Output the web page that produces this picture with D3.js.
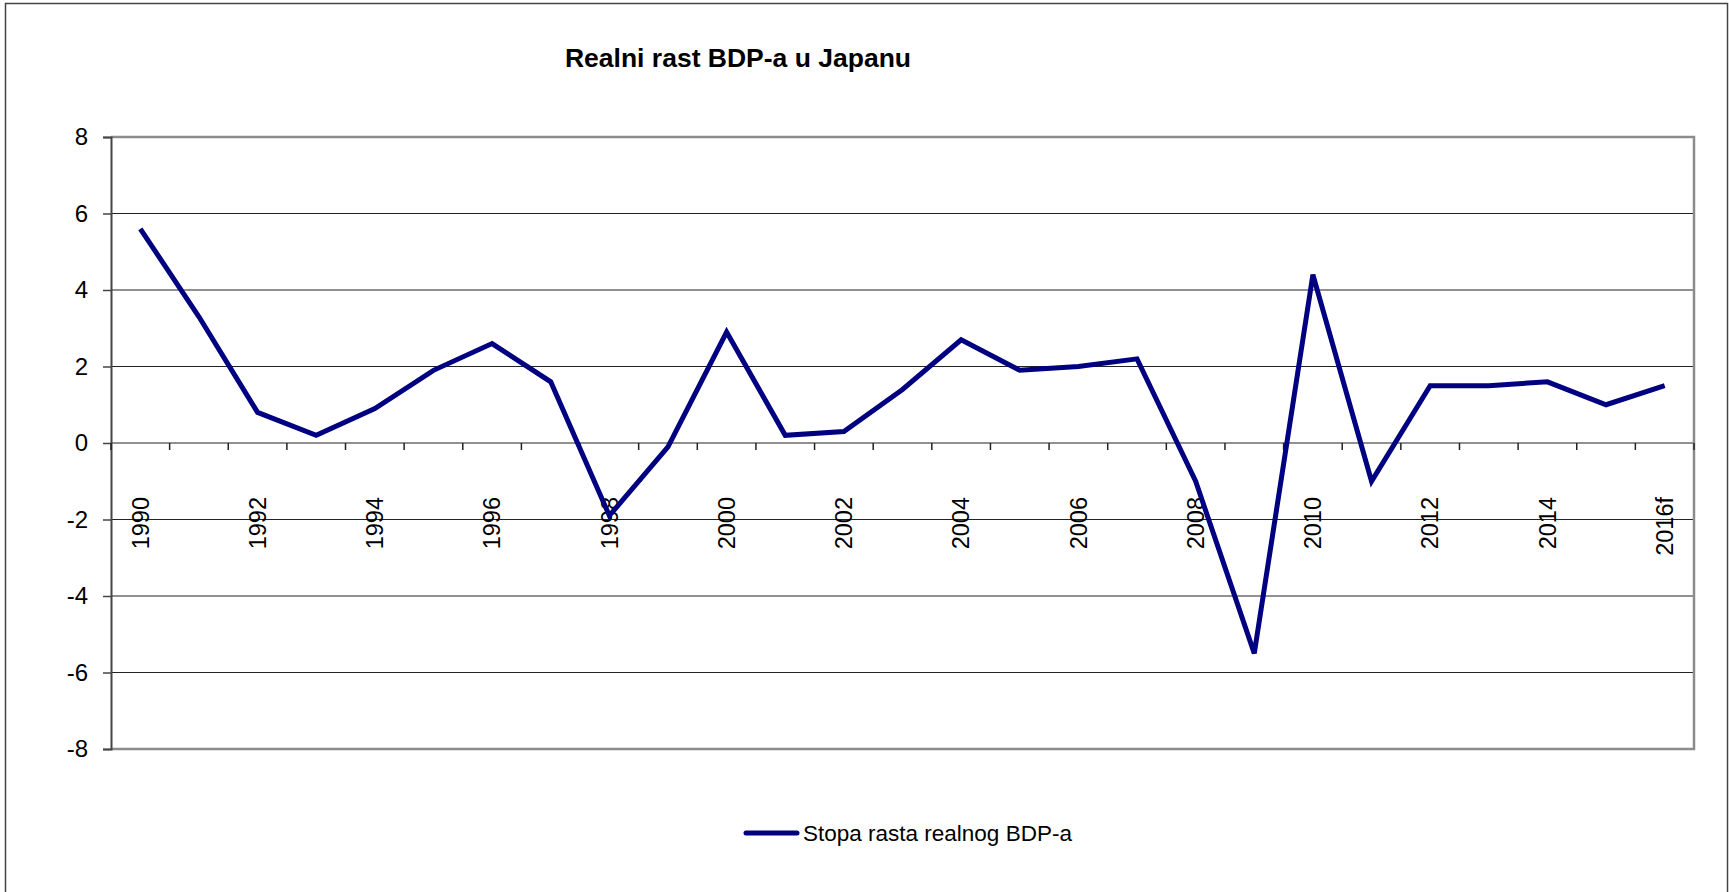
<!DOCTYPE html>
<html>
<head>
<meta charset="utf-8">
<script src="https://cdn.jsdelivr.net/npm/d3@7"></script>
<style>
body { margin: 0; background: #fff; }
svg { display: block; font-family: "Liberation Sans", Arial, sans-serif; }
</style>
</head>
<body>
<svg width="1729" height="892"></svg>
<script>
var years = ["1990","1991","1992","1993","1994","1995","1996","1997","1998","1999",
  "2000","2001","2002","2003","2004","2005","2006","2007","2008","2009",
  "2010","2011","2012","2013","2014","2015","2016f"];
var growth = [5.6, 3.3, 0.8, 0.2, 0.9, 1.9, 2.6, 1.6, -1.9, -0.1,
  2.9, 0.2, 0.3, 1.4, 2.7, 1.9, 2.0, 2.2, -1.0, -5.5,
  4.4, -1.0, 1.5, 1.5, 1.6, 1.0, 1.5];
var yTicks = [-8, -6, -4, -2, 0, 2, 4, 6, 8];
var seriesName = "Stopa rasta realnog BDP-a";
var title = "Realni rast BDP-a u Japanu";

var svg = d3.select("svg");

// chart border
svg.append("rect")
.attr("x", 5.5)
.attr("y", 3.5)
.attr("width", 1722)
.attr("height", 900)
.attr("fill", "none")
.attr("stroke", "#444")
.attr("stroke-width", 1.5);

// plot area edges
var plotLeft = 111, plotRight = 1694, plotTop = 137, plotBottom = 749;

var x = d3.scaleBand().domain(years).range([plotLeft, plotRight]).padding(0);
var y = d3.scaleLinear().domain([-8, 8]).range([plotBottom, plotTop]);

// grid lines
svg.append("g")
.selectAll("line")
.data(yTicks.filter(function(d) { return d > -8 && d < 8; }))
.enter().append("line")
.attr("x1", plotLeft)
.attr("x2", plotRight)
.attr("y1", function(d) { return y(d); })
.attr("y2", function(d) { return y(d); })
.attr("stroke", "#222")
.attr("stroke-width", 1);

// plot border (top, right, bottom)
svg.append("polyline")
.attr("points", [plotLeft, plotTop, plotRight, plotTop, plotRight, plotBottom, plotLeft, plotBottom].join(","))
.attr("fill", "none")
.attr("stroke", "#8c8c8c")
.attr("stroke-width", 2.5);

// y axis (plain hyphen for negatives, like the original)
var yAxis = svg.append("g")
.attr("transform", "translate(" + plotLeft + ",0)")
.call(d3.axisLeft(y).tickValues(yTicks).tickSize(8).tickPadding(15)
  .tickFormat(function(d) { return String(d); }));
yAxis.select(".domain").attr("stroke", "#444").attr("stroke-width", 2);
yAxis.selectAll(".tick line").attr("stroke", "#444").attr("stroke-width", 1.5);
yAxis.selectAll("text")
.attr("font-size", 24)
.attr("fill", "#000")
.attr("font-family", "Liberation Sans, Arial, sans-serif");

// x axis at zero with tick marks on category boundaries
var xAxis = svg.append("g");
var bounds = years.map(function(d) { return x(d); }).concat([plotRight]);
xAxis.selectAll("line.tick")
.data(bounds)
.enter().append("line")
.attr("class", "tick")
.attr("x1", function(d) { return d; })
.attr("x2", function(d) { return d; })
.attr("y1", y(0))
.attr("y2", y(0) + 7)
.attr("stroke", "#222")
.attr("stroke-width", 1.5);

xAxis.selectAll("text")
.data(years.filter(function(d, i) { return i % 2 === 0; }))
.enter().append("text")
.attr("transform", function(d) {
  return "translate(" + (x(d) + x.bandwidth() / 2) + ",497) rotate(-90)";
})
.attr("text-anchor", "end")
.attr("dy", "0.35em")
.attr("font-size", 23.5)
.attr("fill", "#000")
.text(function(d) { return d; });

// series line
var line = d3.line()
.x(function(d, i) { return x(years[i]) + x.bandwidth() / 2; })
.y(function(d) { return y(d); });

svg.append("path")
.datum(growth)
.attr("d", line)
.attr("fill", "none")
.attr("stroke", "#000080")
.attr("stroke-width", 5);

// title
svg.append("text")
.attr("x", 738)
.attr("y", 67)
.attr("text-anchor", "middle")
.attr("font-size", 26.5)
.attr("font-weight", "bold")
.attr("fill", "#000")
.text(title);

// legend
var legend = svg.append("g");
legend.append("line")
.attr("x1", 746)
.attr("x2", 797)
.attr("y1", 833)
.attr("y2", 833)
.attr("stroke", "#000080")
.attr("stroke-width", 5)
.attr("stroke-linecap", "round");
legend.append("text")
.attr("x", 803)
.attr("y", 841)
.attr("font-size", 22.5)
.attr("fill", "#000")
.text(seriesName);
</script>
</body>
</html>
